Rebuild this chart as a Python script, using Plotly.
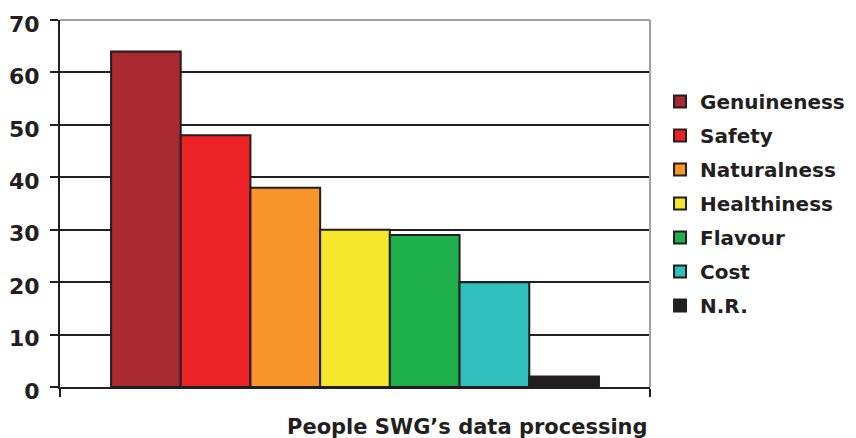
import plotly.graph_objects as go

categories = ["Genuineness", "Safety", "Naturalness", "Healthiness", "Flavour", "Cost", "N.R."]
values = [64, 48, 38, 30, 29, 20, 2]
colors = ["#a8292f", "#ed2227", "#f7952b", "#f5e72a", "#1fb04b", "#2fbfbd", "#231f20"]
group_label = "People SWG\u2019s data processing"
y_ticks = [0, 10, 20, 30, 40, 50, 60, 70]

INK = "#231f20"
FONT = "DejaVu Sans"

fig = go.Figure()
for i, (name, val, col) in enumerate(zip(categories, values, colors)):
    fig.add_trace(go.Bar(
        x=[group_label], y=[val], name=name,
        marker=dict(color=col, line=dict(color=INK, width=2)),
        legendgroup=str(i),
    ))

# page body has an 8px margin, so the figure is sized to fill the rest of the window
fig.update_layout(
    width=848, height=430,
    margin=dict(l=52, r=206, t=12, b=51, autoexpand=False),
    paper_bgcolor="white", plot_bgcolor="white",
    barmode="group", bargap=0.173, bargroupgap=0,
    font=dict(family=FONT, size=21, color=INK),
    showlegend=True,
    legend=dict(
        x=1.017, xanchor="left", y=0.831, yanchor="top",
        traceorder="grouped", tracegroupgap=5,
        font=dict(family=FONT, size=20, color=INK, weight="bold"),
        bgcolor="rgba(0,0,0,0)",
    ),
    xaxis=dict(
        type="category", showticklabels=False, automargin=False,
        showline=True, linecolor=INK, linewidth=2,
        ticks="outside", tickson="boundaries", ticklen=8, tickwidth=2, tickcolor=INK,
        showgrid=False,
    ),
    yaxis=dict(
        range=[0, 70], tickvals=y_ticks, automargin=False,
        showline=True, linecolor=INK, linewidth=2,
        ticks="outside", ticklen=8, tickwidth=2, tickcolor=INK,
        ticklabelstandoff=6, ticklabelshift=4, ticklabeloverflow="allow",
        showgrid=True, gridcolor=INK, gridwidth=2,
        zeroline=False,
        tickfont=dict(family=FONT, size=22, color=INK, weight="bold"),
    ),
    shapes=[
        dict(type="line", xref="paper", yref="paper", x0=0, x1=1, y0=1, y1=1,
             line=dict(color="#a0a0a0", width=2), layer="above"),
        dict(type="line", xref="paper", yref="paper", x0=1, x1=1, y0=0, y1=1,
             line=dict(color="#a0a0a0", width=2), layer="above"),
    ],
    annotations=[
        dict(text=group_label, xref="paper", yref="paper", x=0.6915, y=-0.0708,
             xanchor="center", yanchor="top", showarrow=False,
             font=dict(family=FONT, size=21, color=INK, weight="bold")),
    ],
)

fig.write_html("out.html")
